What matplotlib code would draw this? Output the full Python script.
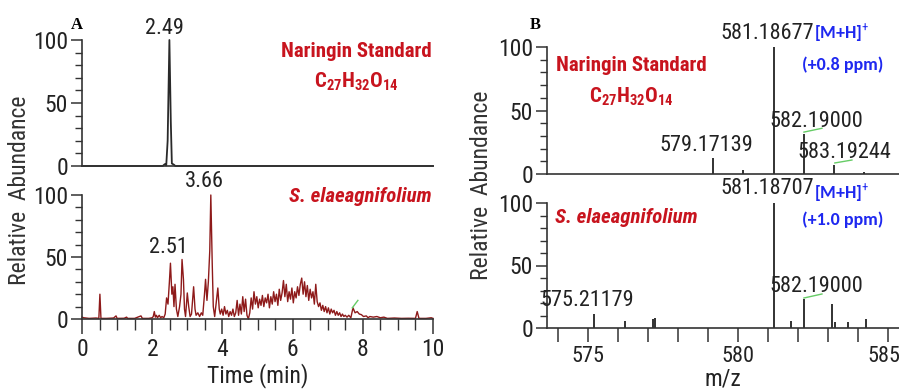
import numpy as np
import matplotlib
matplotlib.use("Agg")
import matplotlib.pyplot as plt
from matplotlib import font_manager as fm
from matplotlib.transforms import ScaledTranslation

names = {f.name for f in fm.fontManager.ttflist}


def pick(prefs, default):
    for p in prefs:
        if p in names:
            return p
    return default


narrow = pick(["Arial Narrow", "Liberation Sans Narrow", "Arimo Narrow",
               "Roboto Condensed", "Archivo Narrow", "PT Sans Narrow"], "Liberation Sans")
calib = pick(["Calibri", "Carlito"], narrow)
plt.rcParams["font.family"] = [narrow, "DejaVu Sans"]
plt.rcParams["mathtext.fontset"] = "custom"
plt.rcParams["mathtext.bf"] = narrow + ":bold"
plt.rcParams["mathtext.rm"] = narrow

# --- chromatogram, naringin standard (time min, relative abundance %)
std_t = [0, 2.30, 2.36, 2.40, 2.44, 2.49, 2.53, 2.56, 2.62, 2.66, 10]
std_i = [0, 0, 1.5, 0.5, 20, 100, 35, 2, 1, 0, 0]

# --- chromatogram, S. elaeagnifolium extract
ext_t = [0, 0.05, 0.2, 0.4, 0.48, 0.51, 0.54, 0.7, 0.9, 0.97, 1.0, 1.2, 1.27, 1.3,
         1.5, 1.68, 1.72, 1.9, 2.0, 2.03, 2.06, 2.09, 2.12, 2.15, 2.2, 2.24, 2.28,
         2.33, 2.37, 2.41, 2.45, 2.49, 2.52, 2.56, 2.59, 2.62, 2.65, 2.69, 2.73,
         2.78, 2.82, 2.85, 2.89, 2.92, 2.95, 3.0, 3.04, 3.08, 3.12, 3.18, 3.22,
         3.25, 3.3, 3.35, 3.4, 3.44, 3.49, 3.52, 3.56, 3.6, 3.64, 3.67, 3.71,
         3.74, 3.78, 3.82, 3.87, 3.91, 3.94, 3.98, 4.02, 4.06, 4.1, 4.14, 4.18,
         4.22, 4.26, 4.3, 4.34, 4.38, 4.42, 4.46, 4.5, 4.54, 4.58, 4.62, 4.66,
         4.7, 4.74, 4.78, 4.82, 4.86, 4.9, 4.94, 4.98, 5.02, 5.06, 5.1, 5.14,
         5.18, 5.22, 5.26, 5.3, 5.34, 5.38, 5.42, 5.46, 5.5, 5.54, 5.58, 5.62,
         5.66, 5.7, 5.74, 5.78, 5.82, 5.86, 5.9, 5.94, 5.98, 6.02, 6.06, 6.1,
         6.14, 6.18, 6.22, 6.26, 6.3, 6.34, 6.38, 6.42, 6.46, 6.5, 6.54, 6.58,
         6.62, 6.66, 6.7, 6.74, 6.78, 6.82, 6.86, 6.9, 6.94, 6.98, 7.02, 7.06,
         7.1, 7.14, 7.18, 7.22, 7.26, 7.3, 7.34, 7.38, 7.42, 7.46, 7.5, 7.55,
         7.6, 7.66, 7.72, 7.78, 7.84, 7.9, 7.96, 8.02, 8.1, 8.15, 8.2, 8.3, 8.4,
         8.5, 8.6, 8.7, 8.9, 9.1, 9.3, 9.5, 9.55, 9.6, 9.8, 9.95, 10]
ext_i = [1.5, 1, 0.5, 0.8, 0.5, 20, 0.5, 0.5, 0.8, 2.5, 0.5, 0.6, 1.5, 0.5,
         0.5, 2.5, 0.5, 0.5, 1, 2, 6, 1.5, 3, 1, 3, 1, 2,
         1, 4, 17, 12, 30, 45, 20, 26, 10, 28, 8, 2,
         10, 20, 48, 32, 8, 2, 21, 10, 2, 4, 26, 8,
         3, 5, 2, 5, 3, 20, 32, 15, 30, 55, 100, 45,
         10, 2, 12, 25, 8, 4, 8, 3, 10, 4, 7, 2,
         6, 3, 8, 2, 5, 15, 3, 12, 4, 18, 6, 16,
         3, 0, 5, 17, 8, 22, 12, 18, 9, 16, 11, 19,
         10, 17, 13, 20, 9, 18, 12, 22, 14, 20, 11, 24,
         15, 21, 31, 18, 28, 14, 22, 16, 25, 13, 22, 17,
         26, 19, 28, 33, 20, 30, 18, 27, 15, 24, 17, 22,
         12, 28, 14, 10, 13, 7, 11, 6, 10, 5, 9, 4,
         8, 5, 7, 3, 6, 3, 5, 2, 4, 2, 3, 1.5,
         3, 1, 9, 5, 6, 4, 3.5, 2, 2.5, 1, 2, 1.5, 2,
         1, 1.5, 0.5, 0.8, 0.5, 0.6, 0.5, 6, 0.5, 0.5, 1, 0.5]

# --- mass spectra (m/z, relative abundance %)
std_mz = [579.17139, 580.17, 581.18677, 582.19000, 583.19244, 584.19]
std_ab = [12.4, 3, 100, 31.7, 7, 1.3]
ext_mz = [575.21179, 576.23, 577.18, 577.22, 581.18707, 581.78, 582.19000,
          583.13, 583.25, 583.67, 584.28]
ext_ab = [11.5, 5.6, 7, 8.3, 100, 5.3, 23.5, 19, 5, 5, 7.5]

# small green marks left over in the original figure
green_ab = ([7.70, 7.86], [9, 15])
green_s1 = ([582.20, 582.80], [33, 36])
green_s2 = ([583.23, 583.80], [8.7, 11])
green_e1 = ([582.20, 582.80], [24, 27.2])

W, H = 899, 392
red = "#C8141E"
trace_red = "#8E1A1A"
blue = "#1E28F0"
axc = "#333333"

fig = plt.figure(figsize=(W / 100, H / 100), dpi=100)


def box(x0, x1, y0, y1):
    return [x0 / W, 1 - y0 / H, (x1 - x0) / W, (y0 - y1) / H]


ax1 = fig.add_axes(box(82, 433, 166, 40))
ax2 = fig.add_axes(box(82, 433, 319, 195))
ax3 = fig.add_axes(box(547, 899, 174, 47))
ax4 = fig.add_axes(box(547, 899, 328, 203))

for ax in (ax1, ax2, ax3, ax4):
    for s in ("top", "right"):
        ax.spines[s].set_visible(False)
    for s in ("left", "bottom"):
        ax.spines[s].set_color(axc)
        ax.spines[s].set_linewidth(1.2)
    ax.set_ylim(0, 100)
    ax.set_yticks([0, 50, 100])
    ax.set_yticks(np.arange(0, 101, 10), minor=True)
    ax.tick_params(axis="y", which="major", length=8, width=1.1, color=axc,
                   labelsize=17, pad=2, labelcolor="#222222")
    ax.tick_params(axis="y", which="minor", length=5, width=1.0, color=axc)
    ax.patch.set_alpha(0)

# chromatograms
for ax in (ax1, ax2):
    ax.set_xlim(0, 10)
ax1.plot(std_t, std_i, color="#2a2a2a", lw=1.3, clip_on=False)
ax1.tick_params(axis="x", which="both", bottom=False, labelbottom=False)
ax2.plot(ext_t, ext_i, color=trace_red, lw=1.0, clip_on=False)
ax2.plot(*green_ab, color="#66CC66", lw=1.0)
ax2.set_xticks(np.arange(0, 11, 2))
ax2.set_xticks(np.arange(0, 10.01, 0.5), minor=True)
ax2.tick_params(axis="x", which="major", length=11, width=1.1, color=axc,
                labelsize=17, pad=3, labelcolor="#222222")
ax2.tick_params(axis="x", which="minor", length=8, width=1.0, color=axc)
ax2.set_xlabel("Time (min)", fontsize=17, labelpad=1, color="#222222")

# spectra
for ax in (ax3, ax4):
    ax.set_xlim(573.63, 585.37)
ax3.vlines(std_mz, 0, std_ab, color="#222222", lw=1.3)
ax3.tick_params(axis="x", which="both", bottom=False, labelbottom=False)
ax4.vlines(ext_mz, 0, ext_ab, color="#222222", lw=1.3)
ax4.set_xticks([575, 580, 585])
ax4.set_xticks(np.arange(574, 586, 1), minor=True)
ax4.tick_params(axis="x", which="both", length=10, width=1.1, color=axc,
                labelsize=16, pad=3, labelcolor="#222222")
ax4.set_xlabel("m/z", fontsize=17, labelpad=0, color="#222222")
# nudge the last label so it stays inside the figure
last = ax4.get_xticklabels()[-1]
last.set_transform(last.get_transform() + ScaledTranslation(-4 / 100, 0, fig.dpi_scale_trans))
for g in (green_s1, green_s2):
    ax3.plot(*g, color="#66CC66", lw=1.0)
ax4.plot(*green_e1, color="#66CC66", lw=1.0)

# y labels
fig.text(20 / W, 1 - 190 / H, "Relative  Abundance", rotation=90, fontsize=17,
         ha="center", va="center", color="#333333")
fig.text(482 / W, 1 - 185 / H, "Relative  Abundance", rotation=90, fontsize=17,
         ha="center", va="center", color="#333333")

# panel letters
fig.text(77 / W, 1 - 25 / H, "A", fontsize=12, fontweight="bold",
         family="Liberation Serif", ha="center", va="center")
fig.text(535 / W, 1 - 25 / H, "B", fontsize=12, fontweight="bold",
         family="Liberation Serif", ha="center", va="center")

pk = dict(fontsize=16, color="#222222", ha="center", va="center", clip_on=False)
formula = r"$\mathbf{C_{27}H_{32}O_{14}}$"
redb = dict(fontsize=15, color=red, fontweight="bold", ha="center", va="center")
bl = dict(fontsize=13, color=blue, fontweight="bold", va="center",
          family=calib, clip_on=False)

# panel A texts
ax1.text(2.36, 109.5, "2.49", **pk)
ax1.text(7.83, 90.5, "Naringin Standard", **redb)
ax1.text(7.83, 66.7, formula, fontsize=15, color=red, ha="center", va="center")
ax2.text(3.50, 110.5, "3.66", **pk)
ax2.text(2.45, 57.3, "2.51", **pk)
ax2.text(7.92, 98.4, "S. elaeagnifolium", style="italic", **redb)

# panel B texts
ax3.text(576.46, 85.8, "Naringin Standard", **redb)
ax3.text(576.46, 60.6, formula, fontsize=15, color=red, ha="center", va="center")
ax3.text(580.99, 111, "581.18677", **pk)
ax3.text(582.52, 111, r"[M+H]$^{+}$", ha="left", **bl)
ax3.text(583.50, 85.8, "(+0.8 ppm)", ha="center", **bl)
ax3.text(582.60, 41, "582.19000", **pk)
ax3.text(583.56, 17.3, "583.19244", **pk)
ax3.text(578.96, 22.8, "579.17139", **pk)

ax4.text(580.99, 112, "581.18707", **pk)
ax4.text(582.55, 108, r"[M+H]$^{+}$", ha="left", **bl)
ax4.text(583.50, 86.4, "(+1.0 ppm)", ha="center", **bl)
ax4.text(576.26, 88.8, "S. elaeagnifolium", style="italic", **redb)
ax4.text(574.98, 22.4, "575.21179", **pk)
ax4.text(582.60, 32.8, "582.19000", **pk)

fig.savefig("out.png", dpi=100)
